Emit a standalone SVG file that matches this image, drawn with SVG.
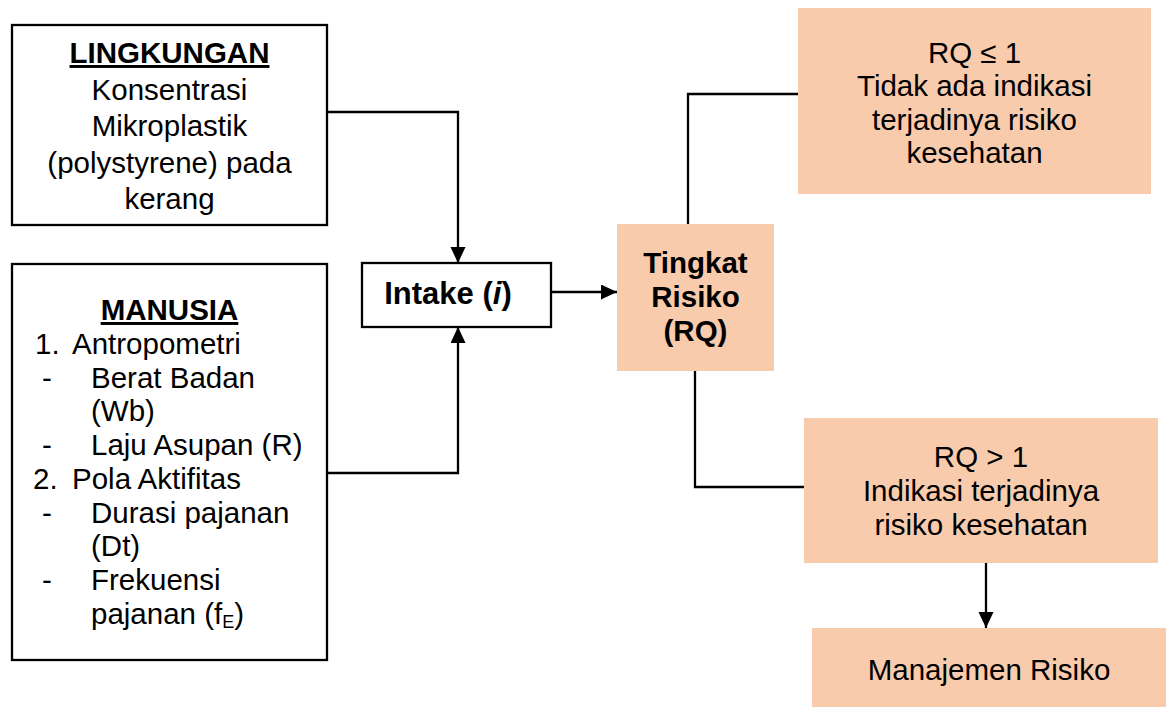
<svg xmlns="http://www.w3.org/2000/svg" width="1166" height="707" viewBox="0 0 1166 707">
<style>
text{font-family:"Liberation Sans",Arial,sans-serif;font-size:29.5px;fill:#000}
.c{text-anchor:middle}
.b{font-weight:bold}
.box{fill:#fff;stroke:#000;stroke-width:2.3}
.pe{fill:#F8CBAD;stroke:none}
.ln{fill:none;stroke:#000;stroke-width:2.3}
</style>
<defs>
<marker id="ah" markerUnits="userSpaceOnUse" markerWidth="16" markerHeight="16" refX="16" refY="7.5" orient="auto">
<path d="M0,0 L16,7.5 L0,15 z" fill="#000"/>
</marker>
</defs>
<rect width="1166" height="707" fill="#fff"/>
<g id="lingkungan">
<rect class="box" x="12" y="25" width="315" height="200"/>
<text class="c b" x="169.5" y="63" text-decoration="underline">LINGKUNGAN</text>
<text class="c" x="169.5" y="99.5">Konsentrasi</text>
<text class="c" x="169.5" y="136">Mikroplastik</text>
<text class="c" x="169.5" y="172.5">(polystyrene) pada</text>
<text class="c" x="169.5" y="209">kerang</text>
</g>
<g id="manusia">
<rect class="box" x="12" y="264" width="315" height="396"/>
<text class="c b" x="169.5" y="320" text-decoration="underline">MANUSIA</text>
<text x="35" y="354">1.</text><text x="72" y="354">Antropometri</text>
<text x="42" y="388">-</text><text x="91" y="388">Berat Badan</text>
<text x="91" y="421">(Wb)</text>
<text x="42" y="455">-</text><text x="91" y="455">Laju Asupan (R)</text>
<text x="33" y="489">2.</text><text x="72" y="489">Pola Aktifitas</text>
<text x="42" y="523">-</text><text x="91" y="523">Durasi pajanan</text>
<text x="91" y="556">(Dt)</text>
<text x="42" y="590">-</text><text x="91" y="590">Frekuensi</text>
<text x="91" y="624">pajanan (f<tspan font-size="18" dy="4">E</tspan><tspan dy="-4">)</tspan></text>
</g>
<g id="intake">
<rect class="box" x="362" y="263" width="189" height="64"/>
<text class="c b" x="448" y="304" style="font-size:31px">Intake (<tspan font-style="italic">i</tspan>)</text>
</g>
<g id="tingkat">
<rect class="pe" x="617" y="224" width="157" height="147"/>
<text class="c b" x="695.5" y="273">Tingkat</text>
<text class="c b" x="695.5" y="307">Risiko</text>
<text class="c b" x="695.5" y="341">(RQ)</text>
</g>
<g id="rq-low">
<rect class="pe" x="798" y="8" width="353" height="186"/>
<text class="c" x="974.5" y="63">RQ ≤ 1</text>
<text class="c" x="974.5" y="96">Tidak ada indikasi</text>
<text class="c" x="974.5" y="129.5">terjadinya risiko</text>
<text class="c" x="974.5" y="163">kesehatan</text>
</g>
<g id="rq-high">
<rect class="pe" x="804" y="418" width="354" height="145"/>
<text class="c" x="981" y="467">RQ &gt; 1</text>
<text class="c" x="981" y="501">Indikasi terjadinya</text>
<text class="c" x="981" y="535">risiko kesehatan</text>
</g>
<g id="manajemen">
<rect class="pe" x="812" y="628" width="354" height="79"/>
<text class="c" x="989" y="680">Manajemen Risiko</text>
</g>
<g id="connectors">
<path class="ln" d="M327,112 H458 V263" marker-end="url(#ah)"/>
<path class="ln" d="M327,473 H458 V327" marker-end="url(#ah)"/>
<path class="ln" d="M551,292 H617" marker-end="url(#ah)"/>
<path class="ln" d="M688,224 V94 H798"/>
<path class="ln" d="M695,371 V487 H804"/>
<path class="ln" d="M986,563 V628" marker-end="url(#ah)"/>
</g>
</svg>
